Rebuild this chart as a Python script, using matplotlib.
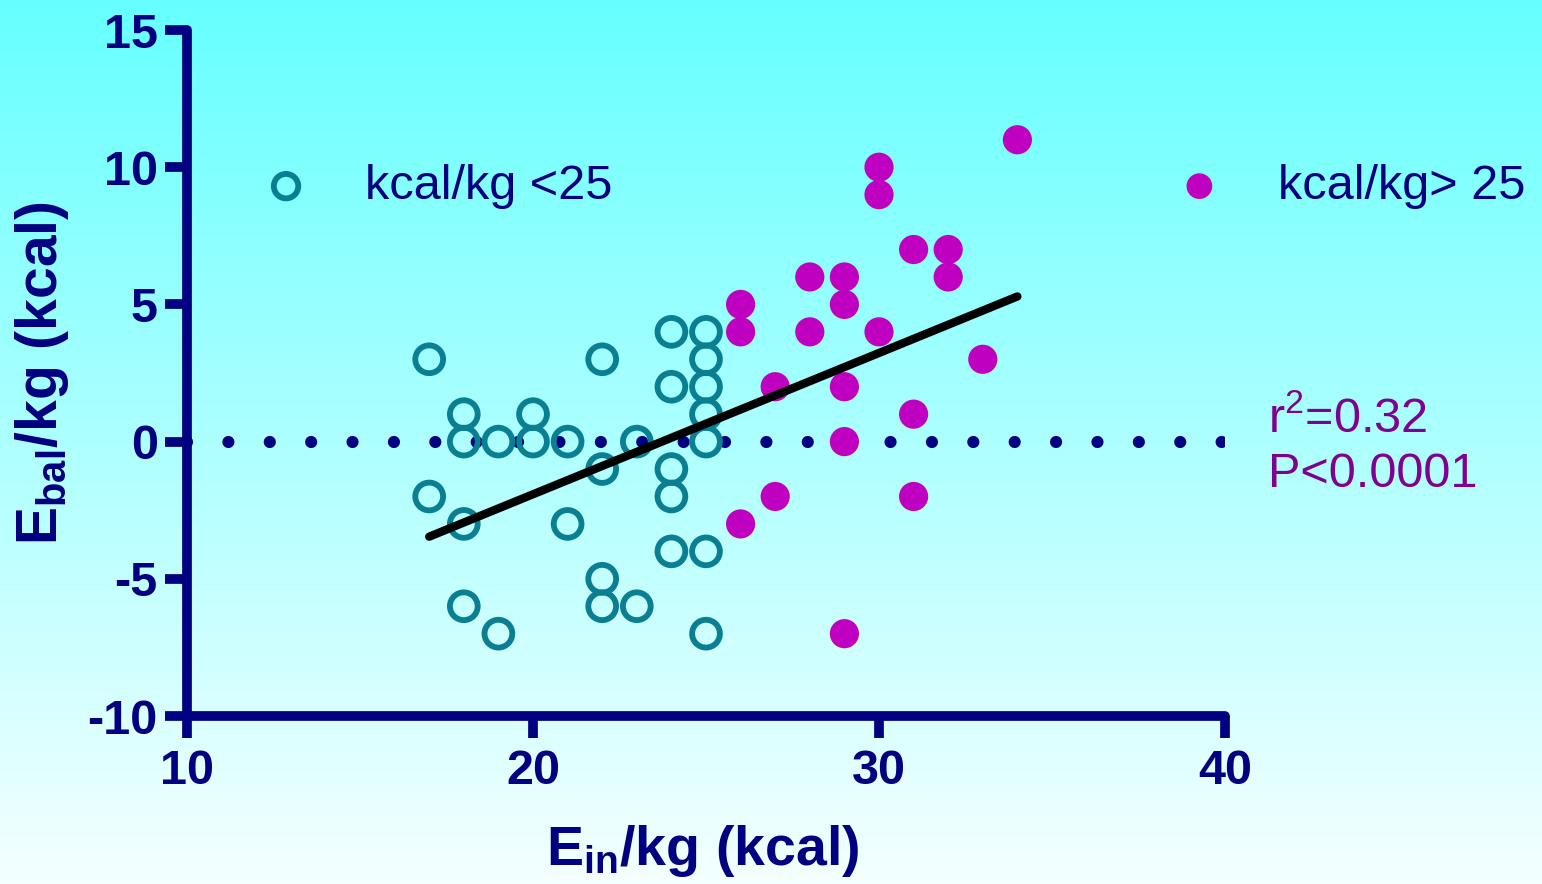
import numpy as np
import matplotlib
matplotlib.use("Agg")
import matplotlib.pyplot as plt

plt.rcParams['font.family'] = ['Liberation Sans', 'DejaVu Sans']
plt.rcParams['mathtext.fontset'] = 'custom'
plt.rcParams['mathtext.rm'] = 'Liberation Sans'
plt.rcParams['mathtext.bf'] = 'Liberation Sans:bold'
plt.rcParams['mathtext.it'] = 'Liberation Sans:italic'
plt.rcParams['axes.unicode_minus'] = False

# ---- data ----
low_x = [17, 17, 18, 18, 18, 18, 19, 19, 20, 20, 21, 21,
         22, 22, 22, 22, 23, 23, 24, 24, 24, 24, 24,
         25, 25, 25, 25, 25, 25, 25]
low_y = [3, -2, 1, 0, -3, -6, 0, -7, 1, 0, 0, -3,
         3, -1, -5, -6, 0, -6, 4, 2, -1, -2, -4,
         4, 3, 2, 1, 0, -4, -7]

high_x = [26, 26, 26, 27, 27, 28, 28, 29, 29, 29, 29, 29,
          30, 30, 30, 31, 31, 31, 32, 32, 33, 34]
high_y = [5, 4, -3, 2, -2, 6, 4, 6, 5, 2, 0, -7,
          10, 9, 4, 7, 1, -2, 7, 6, 3, 11]

fit_slope = 0.515
fit_intercept = -12.22

legend_labels = ['kcal/kg <25', 'kcal/kg> 25']
stats_lines = [r'r$^2$=0.32', 'P<0.0001']
x_ticks = [10, 20, 30, 40]
y_ticks = [-10, -5, 0, 5, 10, 15]

NAVY = '#000080'
TEAL = '#0b7f92'
MAGENTA = '#c000c0'
PURPLE = '#800090'

fig = plt.figure(figsize=(15.42, 8.84), dpi=100)

# gradient background
bg = fig.add_axes([0, 0, 1, 1], zorder=-10)
grad = np.linspace(0, 1, 256)[:, None]
top = np.array([0.40, 1.0, 1.0])
bot = np.array([0.96, 1.0, 1.0])
img = top[None, None, :] * (1 - grad[:, :, None]) + bot[None, None, :] * grad[:, :, None]
bg.imshow(img, aspect='auto', extent=[0, 1, 0, 1])
bg.set_axis_off()

ax = fig.add_axes([187 / 1542, 1 - 716 / 884, (1225 - 187) / 1542, (716 - 30) / 884])
ax.patch.set_alpha(0)

ax.set_xlim(10, 40)
ax.set_ylim(-10, 15)

# dotted zero line
ax.plot([10, 40], [0, 0], color=NAVY, lw=8.8, zorder=1,
        linestyle=(0, (0.001, 3.385)), dash_capstyle='round')

ax.scatter(low_x, low_y, s=400, facecolors='none', edgecolors=TEAL,
           linewidths=4.2, zorder=3, label=legend_labels[0], clip_on=False)
ax.scatter(high_x, high_y, s=441, color=MAGENTA, edgecolors='none',
           zorder=3, label=legend_labels[1], clip_on=False)

all_x = np.array(low_x + high_x, dtype=float)
fx = np.array([all_x.min(), all_x.max()])
ax.plot(fx, fit_slope * fx + fit_intercept, color='black', lw=6,
        solid_capstyle='round', zorder=4)

for sp in ['top', 'right']:
    ax.spines[sp].set_visible(False)
for sp in ['left', 'bottom']:
    ax.spines[sp].set_linewidth(7)
    ax.spines[sp].set_color(NAVY)
    ax.spines[sp].set_capstyle('round')

ax.set_xticks(x_ticks)
ax.set_yticks(y_ticks)
ax.tick_params(axis='both', direction='out', length=16, width=7, color=NAVY,
               labelcolor=NAVY, labelsize=35)
ax.tick_params(axis='x', pad=8)
ax.tick_params(axis='y', pad=5)
for lab in ax.get_xticklabels() + ax.get_yticklabels():
    lab.set_fontweight('bold')

ax.set_xlabel(r'E$_\mathbf{in}$/kg (kcal)', fontsize=40, fontweight='bold',
              color=NAVY, va='baseline')
ax.xaxis.set_label_coords(0.497, -0.217)
ax.set_ylabel(r'E$_\mathbf{bal}$/kg (kcal)', fontsize=41, fontweight='bold',
              color=NAVY, va='center')
ax.yaxis.set_label_coords(-0.14, 0.5)

leg = ax.legend(loc='center left', bbox_to_anchor=(0.072, 0.772), ncol=2,
                frameon=False, fontsize=35, markerscale=0.88,
                handlelength=1.0, handletextpad=1.12, columnspacing=11.58,
                borderaxespad=0, borderpad=0)
for t in leg.get_texts():
    t.set_color(NAVY)

ax.text(41.24, 0.36, stats_lines[0], fontsize=35, color=PURPLE,
        ha='left', va='baseline', clip_on=False)
ax.text(41.24, -1.64, stats_lines[1], fontsize=35, color=PURPLE,
        ha='left', va='baseline', clip_on=False)

fig.savefig('out.png', dpi=100)
